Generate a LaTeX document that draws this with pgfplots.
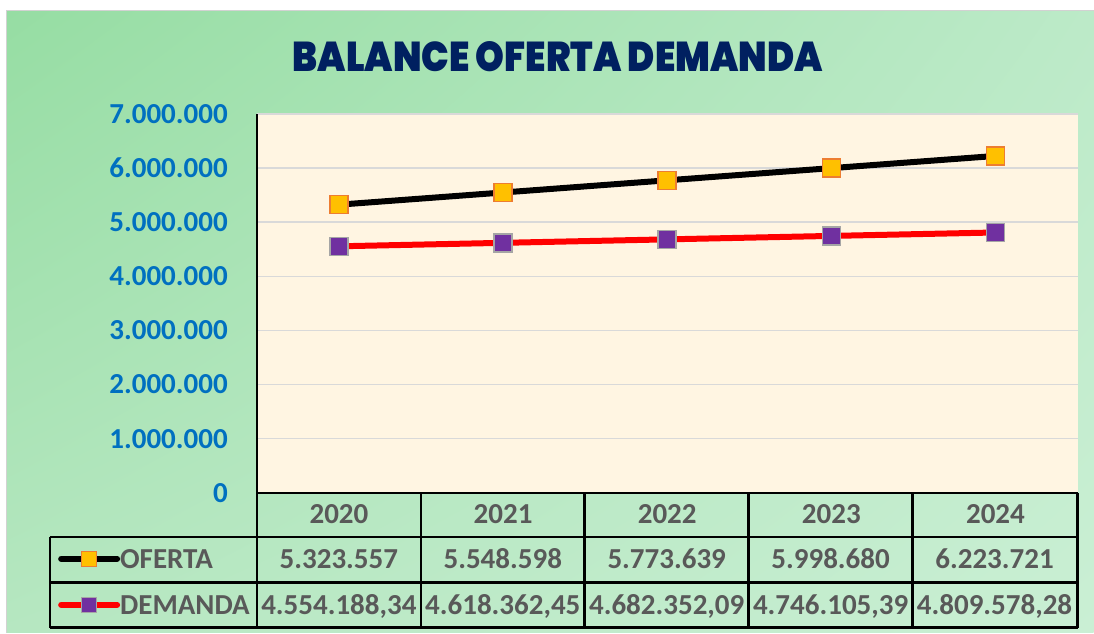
\documentclass[border=0pt]{standalone}
\usepackage{pgfplots}
\pgfplotsset{compat=1.18}
\usetikzlibrary{shadings}
\usepackage{graphicx}
\usepackage{fontspec}
\setmainfont{Carlito}
\newfontfamily\titlefont{Poppins Black}

\definecolor{bgUL}{RGB}{150,221,163}
\definecolor{bgUR}{RGB}{188,234,200}
\definecolor{bgLL}{RGB}{182,231,193}
\definecolor{bgLR}{RGB}{202,239,212}
\definecolor{cream}{RGB}{255,245,226}
\definecolor{gridgray}{RGB}{217,217,217}
\definecolor{tickblue}{RGB}{0,112,192}
\definecolor{tablegray}{RGB}{89,89,89}
\definecolor{titleblue}{RGB}{0,32,96}
\definecolor{ofFill}{RGB}{255,192,0}
\definecolor{ofDraw}{RGB}{237,125,49}
\definecolor{deFill}{RGB}{112,48,160}
\definecolor{deDraw}{RGB}{165,165,165}

\newcommand{\tabfont}{\fontsize{29}{30}\selectfont\bfseries}

\begin{document}
\begin{tikzpicture}[x=1pt,y=1pt]
% background panel
\fill[white] (0,0) rectangle (1094,633);
\shade[upper left=bgUL, upper right=bgUR, lower left=bgLL, lower right=bgLR] (7,0) rectangle (1094,622);
\draw[gray!35, line width=1pt] (7,0) -- (7,622) -- (1094,622);

\node[text=titleblue, inner sep=0pt] at (558,576)
  {\resizebox{530pt}{30pt}{\titlefont BALANCE OFERTA DEMANDA}};

\begin{axis}[
    at={(257pt,140pt)}, anchor=south west,
    scale only axis, width=821pt, height=379pt,
    xmin=-0.5, xmax=4.5, ymin=0, ymax=7000000,
    xtick={0,1,2,3,4},
    xticklabels={2020,2021,2022,2023,2024},
    ytick={0,1000000,2000000,3000000,4000000,5000000,6000000,7000000},
    yticklabels={0,1.000.000,2.000.000,3.000.000,4.000.000,5.000.000,6.000.000,7.000.000},
    scaled y ticks=false,
    axis line style={draw=none},
    major tick length=0pt,
    ymajorgrids,
    major grid style={gridgray, line width=1.5pt},
    axis background/.style={fill=cream},
    yticklabel style={font=\tabfont, text=tickblue, anchor=east, inner sep=0pt, xshift=-29pt},
    xticklabel style={font=\tabfont, text=tablegray, anchor=base, inner sep=0pt, yshift=-31pt},
    clip=false,
    legend cell align=left,
    legend image code/.code={
        \draw[#1, mark size=7.5pt, mark repeat=2, mark phase=2]
            plot coordinates {(0pt,0pt) (28pt,0pt) (56pt,0pt)};
    },
    legend style={
        at={(axis description cs:-0.2424,-0.1488)}, anchor=north west,
        draw=none, fill=none, inner sep=0pt, row sep=27pt,
        font=\tabfont,
        nodes={inner sep=0pt, text height=19pt, text depth=0pt},
    },
]
\addplot[black, line width=6pt, line cap=round, mark=square*, mark size=9pt,
    mark options={solid, fill=ofFill, draw=ofDraw, line width=1.5pt}]
    coordinates {(0,5323557) (1,5548598) (2,5773639) (3,5998680) (4,6223721)};
\addlegendentry{\textcolor{tablegray}{OFERTA}}
\addplot[red, line width=6pt, line cap=round, mark=square*, mark size=9pt,
    mark options={solid, fill=deFill, draw=deDraw, line width=1.5pt}]
    coordinates {(0,4554188.34) (1,4618362.45) (2,4682352.09) (3,4746105.39) (4,4809578.28)};
\addlegendentry{\textcolor{tablegray}{DEMANDA}}
\end{axis}

% left axis line
\draw[black, line width=2.5pt] (257,519) -- (257,140);
% data table grid
\begin{scope}[line width=2.5pt, black]
  \draw (257,140) -- (1078,140);
  \draw (50,96) -- (1078,96);
  \draw (50,50) -- (1078,50);
  \draw (50,5) -- (1078,5);
  \foreach \x in {257,421,585,749,913,1078} \draw (\x,140) -- (\x,5);
  \draw (50,96) -- (50,5);
\end{scope}
% table values
\foreach \v [count=\i from 0] in {5.323.557,5.548.598,5.773.639,5.998.680,6.223.721}
  \node[anchor=base, inner sep=0pt, text=tablegray, font=\tabfont] at (339+164*\i,64.7) {\v};
\foreach \v [count=\i from 0] in {{4.554.188,34},{4.618.362,45},{4.682.352,09},{4.746.105,39},{4.809.578,28}}
  \node[anchor=base, inner sep=0pt, text=tablegray, font=\tabfont] at (339+164*\i,18.7) {\v};
\end{tikzpicture}
\end{document}
